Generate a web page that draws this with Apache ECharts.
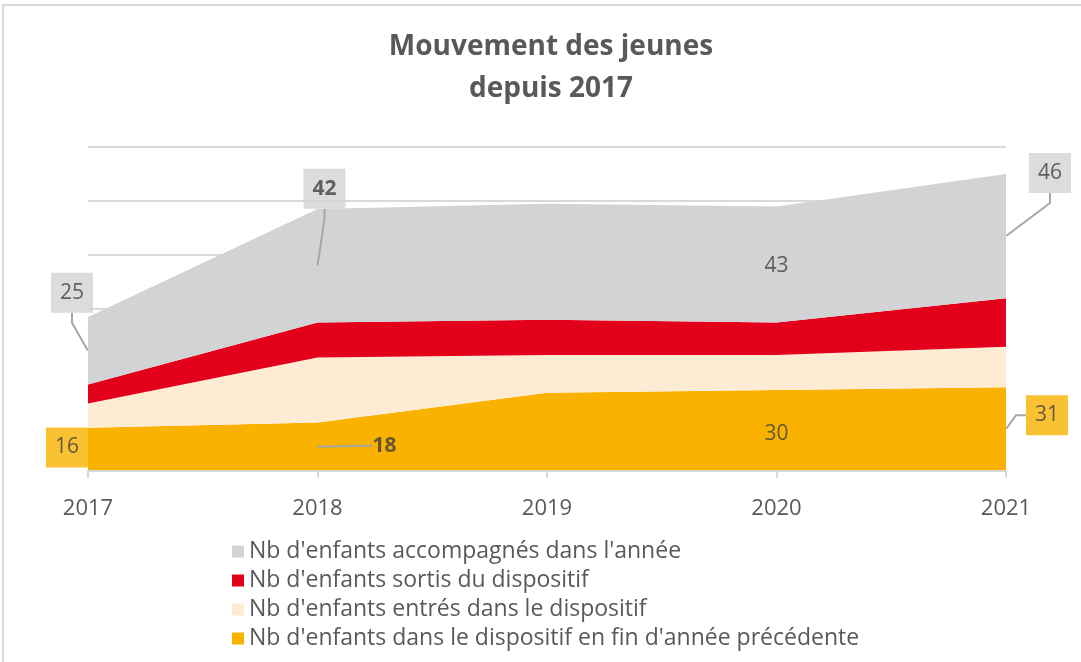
<!DOCTYPE html>
<html>
<head>
<meta charset="utf-8">
<script src="https://cdn.jsdelivr.net/npm/echarts@6/dist/echarts.min.js"></script>
<style>
  html, body { margin: 0; padding: 0; background: #fff; }
  #frame { position: absolute; left: 2px; top: 4px; width: 1100px; height: 700px;
           border-top: 2px solid #d9d9d9; border-left: 2px solid #d9d9d9; }
  #chart { position: absolute; left: 0; top: 0; width: 1081px; height: 662px; }
</style>
</head>
<body>
<div id="frame"></div>
<div id="chart"></div>
<script>
// ---- data ----
const years = ['2017', '2018', '2019', '2020', '2021'];
const finAnneePrecedente = [16, 18, 29, 30, 31];
const entres = [9, 24, 14, 13, 15];
const sortis = [7, 13, 13, 12, 18];
const accompagnes = [25, 42, 43, 43, 46];
// which years carry a data label
const labelledYears = [0, 1, 3, 4];

const seriesNames = [
  "Nb d'enfants dans le dispositif en fin d'année précédente",
  "Nb d'enfants entrés dans le dispositif",
  "Nb d'enfants sortis du dispositif",
  "Nb d'enfants accompagnés dans l'année"
];
const colors = ['#f9b200', '#feebd3', '#e2001a', '#d1d3d4'];

// label styling per labelled year (offsets in px, box or not, bold or not)
const grayLabelStyle = [
  { dx: -16, dy: -58, box: true, bold: false, line: true },
  { dx: 7, dy: -77, box: true, bold: true, line: true },
  { dx: 0, dy: 2, box: false, bold: false, line: false },
  { dx: 44, dy: -63, box: true, bold: false, line: true }
];
const orangeLabelStyle = [
  { dx: -21, dy: -2, box: true, bold: false, line: false },
  { dx: 67, dy: -1, box: false, bold: true, line: true },
  { dx: 0, dy: 4, box: false, bold: false, line: false },
  { dx: 41, dy: -14, box: true, bold: false, line: true }
];

const stackData = [finAnneePrecedente, entres, sortis, accompagnes];

const areaSeries = stackData.map((d, i) => ({
  name: seriesNames[i],
  type: 'line',
  stack: 'total',
  data: d,
  symbol: 'none',
  lineStyle: { width: 0 },
  areaStyle: { color: colors[i], opacity: 1 },
  itemStyle: { color: colors[i] },
  z: 2
}));

function labelItems(values, mids, styles, boxColor) {
  return labelledYears.map((yi, k) => {
    const s = styles[k];
    return {
      value: [yi, mids[yi], values[yi]],
      label: {
        backgroundColor: s.box ? boxColor : 'transparent',
        padding: s.box ? [10, 9, 9, 9] : 0,
        fontWeight: s.bold ? 'bold' : 'normal'
      },
      labelLine: { show: s.line }
    };
  });
}

const grayMid = years.map((_, i) => finAnneePrecedente[i] + entres[i] + sortis[i] + accompagnes[i] / 2);
const orangeMid = years.map((_, i) => finAnneePrecedente[i] / 2);

function labelSeries(values, mids, styles, boxColor) {
  return {
    type: 'scatter',
    data: labelItems(values, mids, styles, boxColor),
    symbolSize: 1,
    itemStyle: { color: 'rgba(0,0,0,0)' },
    silent: true,
    z: 5,
    label: {
      show: true,
      position: 'inside',
      formatter: p => String(p.value[2]),
      fontFamily: 'Open Sans',
      fontSize: 21,
      color: '#404040'
    },
    labelLine: { show: true, lineStyle: { color: '#a6a6a6', width: 2 }, length2: 10 },
    labelLayout: p => ({ dx: styles[p.dataIndex].dx, dy: styles[p.dataIndex].dy })
  };
}

const chart = echarts.init(document.getElementById('chart'), null, { renderer: 'canvas' });
chart.setOption({
  animation: false,
  backgroundColor: 'transparent',
  title: {
    text: 'Mouvement des jeunes\ndepuis 2017',
    left: 546,
    textAlign: 'center',
    top: 21,
    textStyle: {
      fontFamily: 'Open Sans',
      fontSize: 28,
      fontWeight: 'bold',
      color: '#595959',
      lineHeight: 42
    }
  },
  legend: {
    orient: 'vertical',
    left: 227,
    top: 535,
    itemWidth: 12,
    itemHeight: 12,
    itemGap: 6,
    icon: 'rect',
    data: [seriesNames[3], seriesNames[2], seriesNames[1], seriesNames[0]],
    textStyle: { fontFamily: 'Open Sans', fontSize: 23, color: '#595959', lineHeight: 22, padding: [0, 0, 0, 0] },
    selectedMode: false
  },
  grid: { left: 88, right: 75, top: 147, bottom: 191 },
  xAxis: {
    type: 'category',
    data: years,
    boundaryGap: false,
    axisLine: { lineStyle: { color: '#d9d9d9', width: 2 } },
    axisTick: { show: true, length: 7, lineStyle: { color: '#d9d9d9', width: 2 } },
    axisLabel: { margin: 27, fontFamily: 'Open Sans', fontSize: 22, color: '#595959' },
    z: 3
  },
  yAxis: {
    type: 'value',
    min: 0,
    max: 120,
    interval: 20,
    axisLine: { show: false },
    axisTick: { show: false },
    axisLabel: { show: false },
    splitLine: { lineStyle: { color: '#d9d9d9', width: 2 } }
  },
  series: [
    ...areaSeries,
    labelSeries(accompagnes, grayMid, grayLabelStyle, '#d1d3d4'),
    labelSeries(finAnneePrecedente, orangeMid, orangeLabelStyle, '#f9b200')
  ]
});
</script>
</body>
</html>
